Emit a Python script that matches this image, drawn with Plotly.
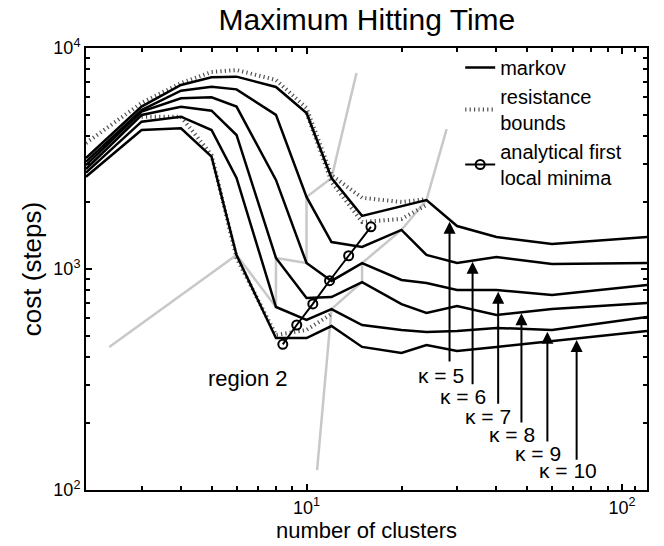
import plotly.graph_objects as go
import numpy as np

# ---------------- data ----------------
clusters = [2, 3, 4, 5, 6, 8, 10, 12, 15, 20, 24, 30, 40, 60, 120]
markov_k5 = [3180, 5430, 6800, 7370, 7420, 6660, 5080, 2580, 1740, 1930, 2050, 1565, 1396, 1297, 1396]
markov_k6 = [3060, 5240, 6410, 6680, 6500, 4980, 2120, 1325, 1258, 1502, 1157, 1064, 1133, 1053, 1064]
markov_k7 = [2950, 5150, 5920, 5980, 5430, 2530, 1064, 883, 1064, 892, 864, 804, 804, 763, 846]
markov_k8 = [2835, 4976, 5425, 5205, 4040, 1122, 739, 747, 873, 694, 632, 680, 619, 659, 702]
markov_k9 = [2728, 4640, 4888, 4256, 2581, 673, 588, 659, 558, 530, 519, 524, 541, 530, 607]
markov_k10 = [2617, 4256, 4332, 3222, 1157, 487, 487, 552, 444, 417, 453, 426, 444, 472, 524]
kappas = [5, 6, 7, 8, 9, 10]

# resistance bounds (kappa = 5 upper / lower, kappa = 10)
bound_k5_upper_x = [2, 3, 4, 5, 6, 8, 10, 12, 15, 20, 24]
bound_k5_upper_y = [3716, 5640, 6940, 7790, 7950, 7170, 5350, 2660, 2100, 2010, 2070]
bound_k5_lower_x = [10, 12, 15, 20, 24]
bound_k5_lower_y = [5081, 2476, 1632, 1684, 1948]
bound_k10_x = [3, 4, 5, 6, 8, 10, 12]
bound_k10_y = [4888, 4888, 3280, 1122, 503, 530, 626]

region_left_x = [2.37, 6, 8, 8, 10, 10, 12, 14.4]
region_left_y = [444, 1157, 673, 1122, 1064, 2117, 2581, 7710]
region_right_x = [10.8, 12, 15, 15, 20, 24, 27.8]
region_right_y = [123, 659, 873, 1064, 1502, 2052, 4295]

minima_x = [8.41, 9.31, 10.47, 11.83, 13.6, 16.0]
minima_y = [456, 558, 695, 885, 1148, 1552]

# arrow heads (on curves) / tails, label positions
arrow_head_x = [28.4, 33.6, 40.5, 48.0, 58.0, 71.8]
arrow_head_y = [1637, 1079, 789, 630, 520, 477]
arrow_tail_y = [376, 296, 242, 199, 163, 135]
label_x = [22.3, 26.1, 31.3, 37.3, 45.1, 53.7]
label_y = [328, 264, 216, 179, 147, 122]

FONT = "Liberation Sans, Arial, Helvetica, sans-serif"
GRAY = "#c8c8c8"
BOUND = dict(color="#505050", width=4, dash="1.2px,3.2px")

fig = go.Figure()

for xs, ys in [(region_left_x, region_left_y), (region_right_x, region_right_y)]:
    fig.add_trace(go.Scatter(x=xs, y=ys, mode="lines", line=dict(color=GRAY, width=2.5),
                             showlegend=False, hoverinfo="skip"))

bounds = [(bound_k5_upper_x, bound_k5_upper_y), (bound_k5_lower_x, bound_k5_lower_y),
          (bound_k10_x, bound_k10_y)]
for i, (xs, ys) in enumerate(bounds):
    fig.add_trace(go.Scatter(x=xs, y=ys, mode="lines", name="resistance<br>bounds",
                             line=BOUND, showlegend=(i == 0), legendrank=2))

markov = [markov_k5, markov_k6, markov_k7, markov_k8, markov_k9, markov_k10]
for i, ys in enumerate(markov):
    fig.add_trace(go.Scatter(x=clusters, y=ys, mode="lines", name="markov",
                             line=dict(color="black", width=2.5),
                             showlegend=(i == 0), legendrank=1))

fig.add_trace(go.Scatter(x=minima_x, y=minima_y, mode="lines+markers",
                         name="analytical first<br>local minima",
                         line=dict(color="black", width=2),
                         marker=dict(symbol="circle-open", size=9, color="black",
                                     line=dict(width=2)),
                         legendrank=3))

for k, hx, hy, ty, lx, ly in zip(kappas, arrow_head_x, arrow_head_y, arrow_tail_y, label_x, label_y):
    fig.add_annotation(x=np.log10(hx), y=np.log10(hy), ax=np.log10(hx), ay=np.log10(ty),
                       xref="x", yref="y", axref="x", ayref="y", text="",
                       showarrow=True, arrowhead=2, arrowsize=1.2, arrowwidth=2,
                       arrowcolor="black", standoff=0, startstandoff=0)
    fig.add_annotation(x=np.log10(lx), y=np.log10(ly), xref="x", yref="y",
                       text=f"κ = {k}", showarrow=False, xanchor="left", yanchor="middle",
                       font=dict(size=21, color="black", family=FONT))

fig.add_annotation(x=np.log10(4.8), y=np.log10(321), xref="x", yref="y", text="region 2",
                   showarrow=False, xanchor="left", yanchor="middle",
                   font=dict(size=22, color="black", family=FONT))

xminor = [v for d in (1, 10) for v in range(2 * d, 10 * d, d)] + [110, 120]
yminor = [v for d in (100, 1000) for v in range(2 * d, 10 * d, d)]

fig.update_layout(
    width=664, height=546,
    margin=dict(l=86, r=17, t=48, b=56),
    paper_bgcolor="white", plot_bgcolor="white",
    font=dict(family=FONT, color="black", size=18),
    title=dict(text="Maximum Hitting Time", x=0.5525, xanchor="center", y=0.983, yanchor="top",
               font=dict(size=30, family=FONT, color="black")),
    legend=dict(x=0.667, y=1.0, xanchor="left", yanchor="top", bgcolor="rgba(0,0,0,0)",
                font=dict(size=20, family=FONT), traceorder="normal", valign="middle",
                itemwidth=30, tracegroupgap=0),
    showlegend=True,
)

fig.update_xaxes(type="log", range=[np.log10(2), np.log10(120)], automargin=False,
                 tickvals=[10, 100], ticktext=["10<sup>1</sup>", "10<sup>2</sup>"],
                 ticks="inside", ticklen=6, tickwidth=1.5, tickcolor="black",
                 minor=dict(tickvals=xminor, ticks="inside", ticklen=4, tickwidth=1.5, tickcolor="black"),
                 showline=True, linecolor="black", linewidth=2, mirror="ticks",
                 showgrid=False, zeroline=False,
                 title=dict(text="number of clusters", font=dict(size=22, family=FONT), standoff=4),
                 tickfont=dict(size=18, family=FONT))
fig.update_yaxes(type="log", range=[2, 4], automargin=False,
                 tickvals=[100, 1000, 10000],
                 ticktext=["10<sup>2</sup>", "10<sup>3</sup>", "10<sup>4</sup>"],
                 ticks="inside", ticklen=6, tickwidth=1.5, tickcolor="black",
                 minor=dict(tickvals=yminor, ticks="inside", ticklen=4, tickwidth=1.5, tickcolor="black"),
                 showline=True, linecolor="black", linewidth=2, mirror="ticks",
                 showgrid=False, zeroline=False,
                 title=dict(text="cost (steps)", font=dict(size=26, family=FONT), standoff=4),
                 tickfont=dict(size=18, family=FONT))

fig.write_html("out.html")
